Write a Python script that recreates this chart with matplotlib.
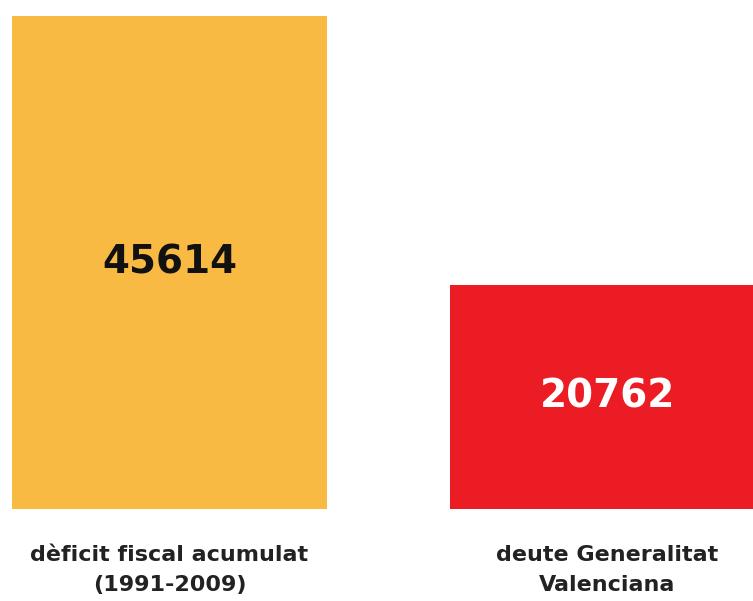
import matplotlib
matplotlib.use("Agg")
import matplotlib.pyplot as plt

# data
categories = ["dèficit fiscal acumulat\n(1991-2009)", "deute Generalitat\nValenciana"]
values = [45614, 20762]
bar_colors = ["#F8BA42", "#EC1C24"]
value_colors = ["#111111", "#FFFFFF"]

fig = plt.figure(figsize=(7.53, 6.01), dpi=100)
# axes bottom sits on the bar baseline
ax = fig.add_axes([0, 92 / 601, 1, 509 / 601])

pos = [0, 1]
ax.bar(pos, values, width=0.719, color=bar_colors)
ax.set_xlim(-0.387, 1.332)
ax.set_ylim(0, values[0] * 509 / 493)

for x, v, c in zip(pos, values, value_colors):
    ax.text(x, v / 2, str(v), ha="center", va="center", color=c,
            fontsize=28, fontweight="bold", family="DejaVu Sans")

ax.set_xticks(pos)
ax.set_xticklabels(categories, fontsize=16, color="#222222",
                   fontweight="semibold", family="DejaVu Sans")
for t in ax.get_xticklabels():
    t.set_linespacing(1.6)
ax.tick_params(axis="x", length=0, pad=26)
ax.set_yticks([])
for s in ax.spines.values():
    s.set_visible(False)

fig.savefig("out.png", dpi=100)
